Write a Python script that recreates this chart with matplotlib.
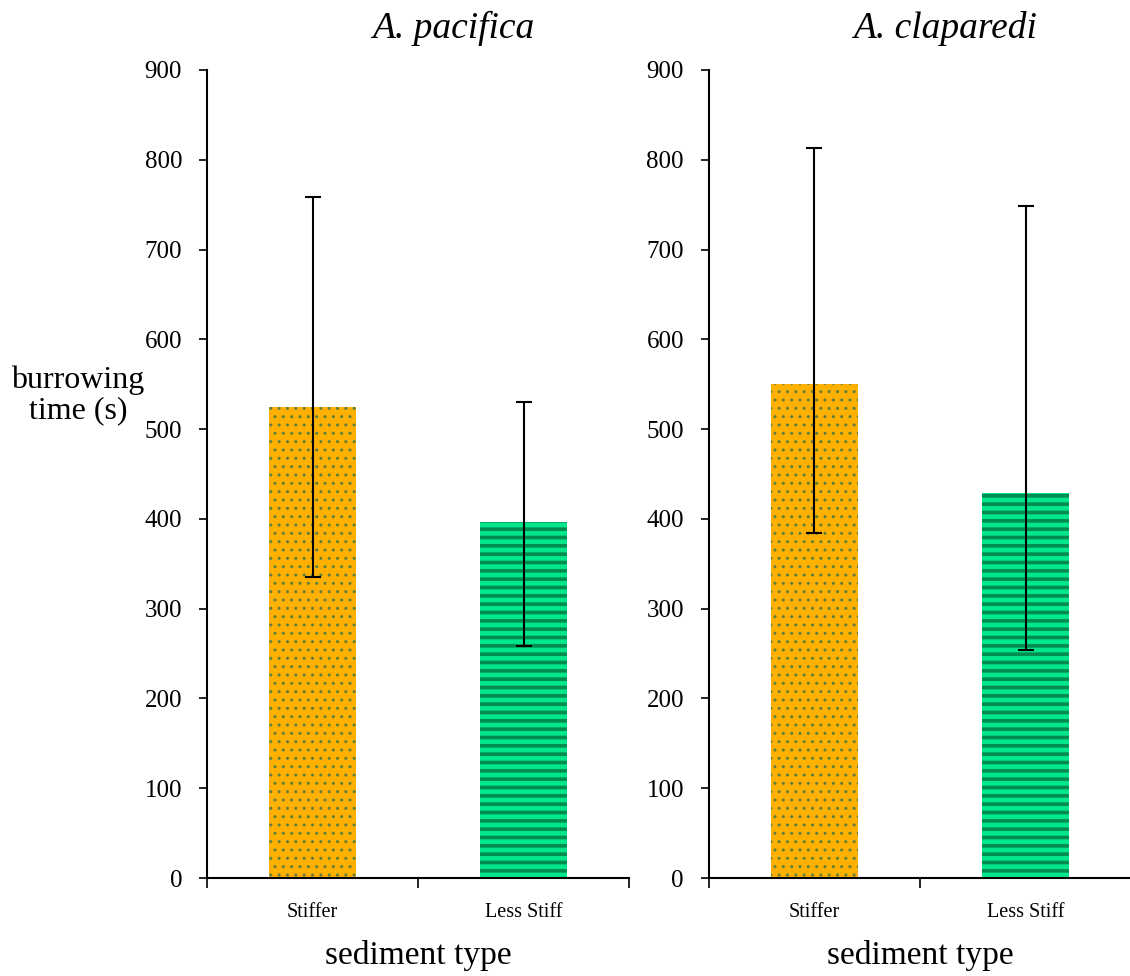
import matplotlib.pyplot as plt

plt.rcParams['font.family'] = ['Liberation Serif', 'DejaVu Serif']

# data
categories = ['Stiffer', 'Less Stiff']
species = ['A. pacifica', 'A. claparedi']
means = [[525, 396], [550, 429]]
err_low = [[335, 258], [384, 254]]
err_high = [[759, 530], [813, 748]]

fig = plt.figure(figsize=(11.3, 9.76), dpi=100)

# axes boxes in figure fractions
boxes = [[0.1832, 0.1004, 0.3735, 0.8279],
         [0.6274, 0.1004, 0.3735, 0.8279]]
title_x = [0.401, 0.836]

for i in range(2):
    ax = fig.add_axes(boxes[i])
    x = [0, 1]
    bars = ax.bar(x, means[i], width=0.41, linewidth=0)

    # orange dotted bar
    b = bars[0]
    b.set_facecolor('#FFB000')
    b.set_edgecolor('#5f7f3c')
    b.set_hatch('..')
    if hasattr(b, 'set_hatch_linewidth'):
        b.set_hatch_linewidth(1.0)

    # green striped bar
    b = bars[1]
    b.set_facecolor('#00E68A')
    b.set_edgecolor('#008C50')
    b.set_hatch('--')
    if hasattr(b, 'set_hatch_linewidth'):
        b.set_hatch_linewidth(2.6)

    lo = [m - l for m, l in zip(means[i], err_low[i])]
    hi = [h - m for m, h in zip(means[i], err_high[i])]
    ax.errorbar(x, means[i], yerr=[lo, hi], fmt='none', ecolor='black',
                elinewidth=1.5, capsize=6, capthick=1.5)

    ax.set_xlim(-0.5, 1.5)
    ax.set_ylim(0, 900)
    ax.set_yticks(range(0, 901, 100))
    ax.set_xticks([-0.5, 0.5, 1.5])
    ax.set_xticklabels([])
    ax.set_xticks(x, minor=True)
    ax.set_xticklabels(categories, minor=True, fontsize=14.5)
    ax.tick_params(axis='x', which='minor', length=0, pad=18)
    ax.tick_params(axis='x', which='major', direction='out', length=7, width=1.2)
    ax.tick_params(axis='y', direction='out', length=6, width=1.2,
                   labelsize=18, pad=12)

    for s in ['top', 'right']:
        ax.spines[s].set_visible(False)
    for s in ['left', 'bottom']:
        ax.spines[s].set_linewidth(1.5)

    cx = boxes[i][0] + 0.5 * 422 / 1130
    fig.text(cx, 0.0205, 'sediment type', fontsize=24, ha='center', va='center')
    fig.text(title_x[i], 0.971, species[i], fontsize=27, style='italic',
             ha='center', va='center')

fig.text(0.069, 0.595, 'burrowing\ntime (s)', fontsize=23, ha='center',
         va='center', linespacing=1.05)

fig.savefig('out.png', dpi=100)
